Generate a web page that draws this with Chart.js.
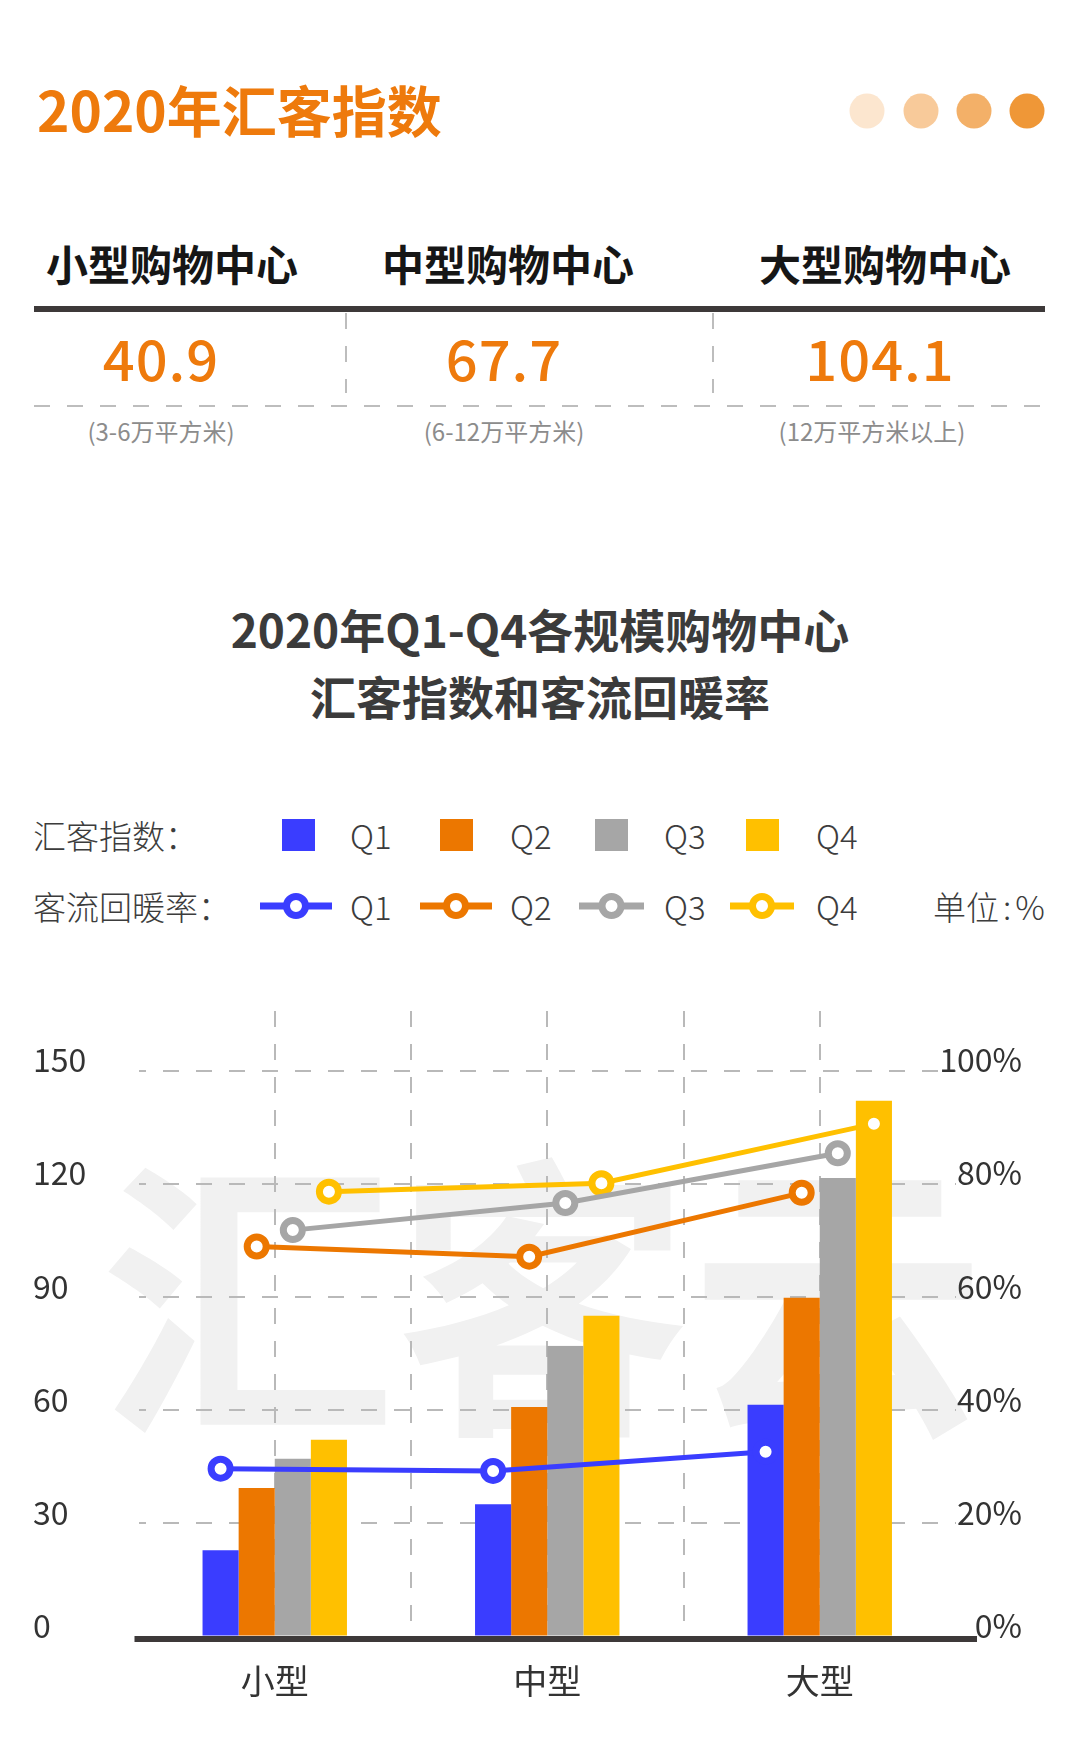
<!DOCTYPE html>
<html>
<head>
<meta charset="utf-8">
<script src="https://cdn.jsdelivr.net/npm/chart.js@4.4.1/dist/chart.umd.min.js"></script>
<style>
html,body{margin:0;padding:0;background:#fff;}
body{width:1080px;height:1746px;position:relative;overflow:hidden;font-family:'Noto Sans CJK SC','Noto Sans',sans-serif;}
.a{position:absolute;white-space:nowrap;line-height:1;}
.cc{transform:translate(-50%,-50%);}
.cy{transform:translateY(-50%);}
.dot{position:absolute;width:35px;height:35px;border-radius:50%;transform:translate(-50%,-50%);}
.hd{font-size:42px;font-weight:700;color:#161616;}
.num{font-size:56px;font-weight:500;color:#EE7A0C;letter-spacing:1px;}
.sub{font-size:24px;color:#8c8c8c;}
.lg{font-size:33px;color:#3c3c3c;font-weight:300;}
</style>
</head>
<body>
<div class="a cy" style="left:37px;top:108px;font-size:55px;font-weight:700;color:#EE7A0C;">2020年汇客指数</div>
<div class="dot" style="left:867px;top:111px;background:#FCE6CF;"></div>
<div class="dot" style="left:921px;top:111px;background:#F8CA9A;"></div>
<div class="dot" style="left:974px;top:111px;background:#F3B068;"></div>
<div class="dot" style="left:1027px;top:111px;background:#EF9737;"></div>

<div id="summary"></div>
<div class="a" style="left:34px;top:306px;width:1011px;height:6px;background:#3d3939;"></div>
<div class="a" style="left:345px;top:313px;width:2px;height:80px;background:repeating-linear-gradient(to bottom,#bdbdbd 0 16px,transparent 16px 33px);"></div>
<div class="a" style="left:712px;top:313px;width:2px;height:80px;background:repeating-linear-gradient(to bottom,#bdbdbd 0 16px,transparent 16px 33px);"></div>
<div class="a" style="left:34px;top:405px;width:1011px;height:2px;background:repeating-linear-gradient(to right,#bdbdbd 0 16px,transparent 16px 33px);"></div>

<div class="a cc" style="left:540px;top:628px;font-size:46px;font-weight:700;color:#3b3b3b;">2020年Q1-Q4各规模购物中心</div>
<div class="a cc" style="left:540px;top:695px;font-size:46px;font-weight:700;color:#3b3b3b;">汇客指数和客流回暖率</div>

<div id="legend"></div>

<div class="a cc" style="left:543px;top:1283px;font-size:295px;font-weight:700;color:#f1f1f1;">汇客云</div>

<canvas id="c" width="1080" height="780" style="position:absolute;left:0;top:960px;"></canvas>

<script>
// ---------- data ----------
const categories = ['小型', '中型', '大型'];
const seriesNames = ['Q1', 'Q2', 'Q3', 'Q4'];
// 汇客指数 (left axis)
const indexQ1 = [22.9, 35.1, 61.5];
const indexQ2 = [39.4, 60.9, 89.9];
const indexQ3 = [47.2, 77.1, 121.7];
const indexQ4 = [52.2, 85.1, 142.2];
// 客流回暖率 % (right axis)
const recoveryQ1 = [29.7, 29.3, 32.7];
const recoveryQ2 = [69.0, 67.2, 78.5];
const recoveryQ3 = [71.9, 76.7, 85.5];
const recoveryQ4 = [78.7, 80.2, 90.7];
// tick labels
const leftTicks = [0, 30, 60, 90, 120, 150];
const rightTicks = [0, 20, 40, 60, 80, 100];
// header summary
const mallNames = ['小型购物中心', '中型购物中心', '大型购物中心'];
const summaryValues = ['40.9', '67.7', '104.1'];
const areaRanges = ['(3-6万平方米)', '(6-12万平方米)', '(12万平方米以上)'];

// ---------- styles / layout ----------
const colors = ['#3A3DFF', '#EC7700', '#A6A6A6', '#FFC000'];
const headCx = [172, 508, 885];
const numCx = [161, 504, 880];
const subCx = [161, 504, 872];
const swatchX = [282, 440, 595, 746];
const legendTextX = [350, 510, 664, 816];
const legendLine = [[260, 72], [420, 72], [579, 65], [730, 64]];

(function () {
  const s = document.getElementById('summary');
  let h = '';
  mallNames.forEach((n, i) => {
    h += `<div class="a cc hd" style="left:${headCx[i]}px;top:263px;">${n}</div>`;
    h += `<div class="a cc num" style="left:${numCx[i]}px;top:357px;">${summaryValues[i]}</div>`;
    h += `<div class="a cc sub" style="left:${subCx[i]}px;top:431px;">${areaRanges[i]}</div>`;
  });
  s.innerHTML = h;
})();

(function () {
  const l = document.getElementById('legend');
  let h = '';
  h += `<div class="a cy lg" style="left:33px;top:835px;">汇客指数：</div>`;
  h += `<div class="a cy lg" style="left:33px;top:906px;">客流回暖率：</div>`;
  seriesNames.forEach((q, i) => {
    h += `<div class="a" style="left:${swatchX[i]}px;top:819px;width:33px;height:32px;background:${colors[i]};"></div>`;
    h += `<div class="a cy lg" style="left:${legendTextX[i]}px;top:835px;">${q}</div>`;
    const [lx, lw] = legendLine[i];
    h += `<svg class="a" style="left:${lx}px;top:891px;" width="${lw}" height="30"><line x1="0" y1="15" x2="${lw}" y2="15" stroke="${colors[i]}" stroke-width="7"/><circle cx="${lw / 2}" cy="15" r="9.5" fill="#fff" stroke="${colors[i]}" stroke-width="7"/></svg>`;
    h += `<div class="a cy lg" style="left:${legendTextX[i]}px;top:906px;">${q}</div>`;
  });
  h += `<div class="a cy lg" style="left:933px;top:906px;">单位<span style="margin:0 4px;">:</span>%</div>`;
  l.innerHTML = h;
})();

// ---------- chart ----------
const indexSeries = [indexQ1, indexQ2, indexQ3, indexQ4];
const recoverySeries = [recoveryQ1, recoveryQ2, recoveryQ3, recoveryQ4];
const CAT_PCT = 0.53;
const gridColor = '#b9b9b9';
const dash = [16, 17];
const leftTop = 166;
const rightTop = leftTop * rightTicks[rightTicks.length - 1] / leftTicks[leftTicks.length - 1];
const nQ = seriesNames.length;

Chart.defaults.font.family = "'Noto Sans CJK SC', 'Noto Sans', sans-serif";

// bars: one group per category, positioned on the shared index scale 'xl'
const barSets = indexSeries.map((vals, q) => ({
  type: 'bar',
  label: '汇客指数 ' + seriesNames[q],
  data: vals.map((v, i) => ({ x: i, y: v })),
  backgroundColor: colors[q],
  borderWidth: 0,
  categoryPercentage: CAT_PCT,
  barPercentage: 1,
  xAxisID: 'xl',
  yAxisID: 'y',
  order: 2
}));

// lines: each point sits over the bar of the same quarter
const lineSets = recoverySeries.map((vals, q) => ({
  type: 'line',
  label: '客流回暖率 ' + seriesNames[q],
  data: vals.map((v, i) => ({ x: i + (q - (nQ - 1) / 2) * CAT_PCT / nQ, y: v })),
  borderColor: colors[q],
  backgroundColor: '#fff',
  borderWidth: 5,
  pointRadius: 9.5,
  pointBorderWidth: 7,
  pointBackgroundColor: '#fff',
  pointBorderColor: colors[q],
  tension: 0,
  fill: false,
  grouped: false,
  xAxisID: 'xl',
  yAxisID: 'y2',
  order: 1
}));

const baselinePlugin = {
  id: 'baseline',
  afterDatasetsDraw(chart) {
    const { ctx, chartArea: a, scales } = chart;
    const py = scales.y.getPixelForValue(0);
    ctx.save();
    ctx.strokeStyle = '#3d3939';
    ctx.lineWidth = 6;
    ctx.beginPath();
    ctx.moveTo(a.left - 4, py + 2.5);
    ctx.lineTo(a.right + 21, py + 2.5);
    ctx.stroke();
    ctx.restore();
  }
};

new Chart(document.getElementById('c'), {
  type: 'bar',
  data: { labels: categories, datasets: [...barSets, ...lineSets] },
  plugins: [baselinePlugin],
  options: {
    responsive: false,
    devicePixelRatio: 1,
    animation: false,
    layout: { padding: { left: 33, right: 58, top: 51, bottom: 23.5 } },
    plugins: { legend: { display: false }, tooltip: { enabled: false } },
    scales: {
      x: {
        type: 'category',
        position: 'bottom',
        offset: true,
        grid: { offset: false, color: gridColor, lineWidth: 2, drawTicks: false },
        border: { display: false, dash: dash },
        ticks: { font: { size: 34 }, color: '#333', padding: 24 },
        afterFit: ax => { ax.height = 80; }
      },
      x2: {
        type: 'category',
        labels: categories,
        position: 'bottom',
        offset: true,
        grid: {
          offset: true,
          lineWidth: 2,
          drawTicks: false,
          color: ctx => (ctx.type !== 'tick' || ctx.index === 0) ? 'rgba(0,0,0,0)' : gridColor
        },
        border: { display: false, dash: dash },
        ticks: { display: false },
        afterFit: ax => { ax.height = 0; }
      },
      xl: {
        type: 'linear',
        min: -0.5,
        max: categories.length - 0.5,
        offset: false,
        display: false,
        afterBuildTicks: ax => { ax.ticks = categories.map((c, i) => ({ value: i })); }
      },
      y: {
        position: 'left',
        min: 0,
        max: leftTop,
        afterBuildTicks: ax => { ax.ticks = leftTicks.map(v => ({ value: v })); },
        afterFit: ax => { ax.width = 105.5; ax.paddingTop = 0; ax.paddingBottom = 0; },
        grid: { color: gridColor, lineWidth: 2, drawTicks: false },
        border: { display: false, dash: dash, dashOffset: 9 },
        ticks: { crossAlign: 'far', labelOffset: -11, padding: 0, font: { size: 32 }, color: '#333' }
      },
      y2: {
        position: 'right',
        min: 0,
        max: rightTop,
        afterBuildTicks: ax => { ax.ticks = rightTicks.map(v => ({ value: v })); },
        afterFit: ax => { ax.width = 66; ax.paddingTop = 0; ax.paddingBottom = 0; },
        grid: { drawOnChartArea: false, drawTicks: false },
        border: { display: false },
        ticks: { mirror: true, crossAlign: 'near', labelOffset: -11, padding: 66, font: { size: 32 }, color: '#333', callback: v => v + '%' }
      }
    }
  }
});
</script>
</body>
</html>
